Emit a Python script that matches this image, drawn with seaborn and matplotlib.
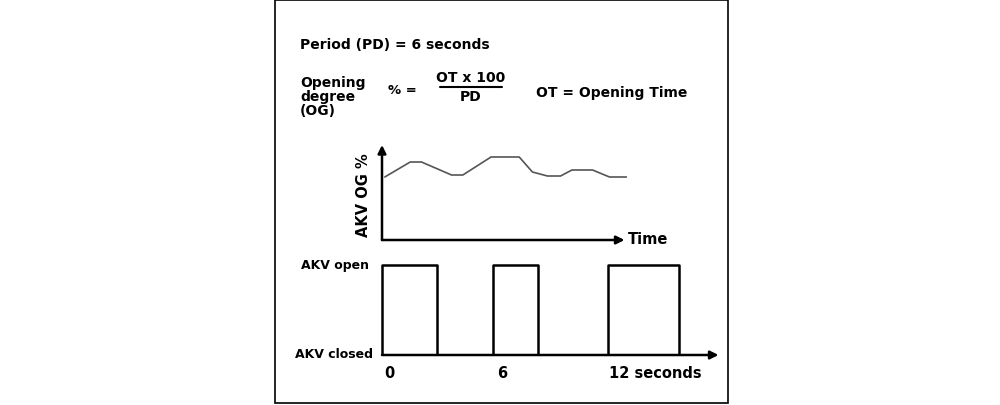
import matplotlib
matplotlib.use("Agg")
import matplotlib.pyplot as plt
import seaborn as sns
import numpy as np
import pandas as pd
from matplotlib.patches import Rectangle

sns.set_theme(style="white")
plt.rcParams['font.family'] = ['DejaVu Sans']
plt.rcParams['text.color'] = 'black'

# OG curve (time in s, OG level arbitrary)
og_time = [0.15, 1.5, 2.1, 3.7, 4.3, 5.8, 7.3, 8.0, 8.8, 9.5, 10.1, 11.2, 12.1, 13.0]
og_level = [63, 78, 78, 65, 65, 83, 83, 68, 64, 64, 70, 70, 63, 63]
# pulses (open start, open end) in seconds
pulse_start = [0.0, 5.9, 12.0]
pulse_end = [2.9, 8.3, 15.8]
tick_pos = [0, 6, 12]
tick_labels = ["0", "6", "12 seconds"]

fig = plt.figure(figsize=(10, 4.05), dpi=100)
fig.patches.append(Rectangle((0.275, 0.005), 0.453, 0.995, transform=fig.transFigure,
                             fill=False, edgecolor="black", linewidth=1.2))

L = 0.382 - 0.2 * 18.8 / 1000; W = 18.5 * 18.8 / 1000
# top axes
ax1 = fig.add_axes([L, 1 - 240/405, W, 120/405])
ax1.set_xlim(-0.2, 18.3); ax1.set_ylim(0, 120)
df = pd.DataFrame({"t": og_time, "og": og_level})
sns.lineplot(data=df, x="t", y="og", ax=ax1, color="#555555", linewidth=1.2)
ax1.annotate("", xy=(12.9, 0), xytext=(0, 0), arrowprops=dict(arrowstyle="-|>", color="black", lw=1.8, shrinkA=0, shrinkB=0))
ax1.annotate("", xy=(0, 95), xytext=(0, 0), arrowprops=dict(arrowstyle="-|>", color="black", lw=1.8, shrinkA=0, shrinkB=0))
ax1.text(13.1, 0, "Time", va="center", ha="left", fontsize=10.5, fontweight="bold")
ax1.text(-0.6, 45, "AKV OG %", rotation=90, va="center", ha="right", fontsize=10.5, fontweight="bold")
ax1.axis("off")

# bottom axes
ax2 = fig.add_axes([L, 1 - 355/405, W, 105/405])
ax2.set_xlim(-0.2, 18.3); ax2.set_ylim(0, 105/90)
xs = [0]; ys = [0]
for s, e in zip(pulse_start, pulse_end):
    xs += [s, s, e, e]; ys += [0, 1, 1, 0]
xs.append(17.5); ys.append(0)
sns.lineplot(x=xs, y=ys, ax=ax2, color="black", linewidth=1.8, sort=False, estimator=None)
ax2.annotate("", xy=(17.9, 0), xytext=(0, 0), arrowprops=dict(arrowstyle="-|>", color="black", lw=1.8, shrinkA=0, shrinkB=0))
for p, lab in zip(tick_pos, tick_labels):
    ax2.text(p + 0.1, -0.12, lab, ha="left", va="top", fontsize=10.5, fontweight="bold")
ax2.text(-0.5, 0, "AKV closed", ha="right", va="center", fontsize=9, fontweight="bold")
ax2.text(-4.3, 1, "AKV open", ha="left", va="center", fontsize=9, fontweight="bold")
ax2.axis("off")

fig.text(0.300, 1 - 45/405, "Period (PD) = 6 seconds", fontsize=10, fontweight="bold", va="center")
fig.text(0.300, 1 - 97/405, "Opening\ndegree\n(OG)", fontsize=10, fontweight="bold", va="center", linespacing=1.0)
fig.text(0.388, 1 - 90/405, "% =", fontsize=9.5, fontweight="bold", va="center")
fig.text(0.471, 1 - 78/405, "OT x 100", fontsize=10, fontweight="bold", va="center", ha="center")
fig.add_artist(plt.Line2D([0.440, 0.502], [1 - 87/405]*2, color="black", lw=1.5))
fig.text(0.471, 1 - 97/405, "PD", fontsize=10, fontweight="bold", va="center", ha="center")
fig.text(0.536, 1 - 93/405, "OT = Opening Time", fontsize=10, fontweight="bold", va="center")

fig.savefig("out.png", dpi=100, facecolor="white")
